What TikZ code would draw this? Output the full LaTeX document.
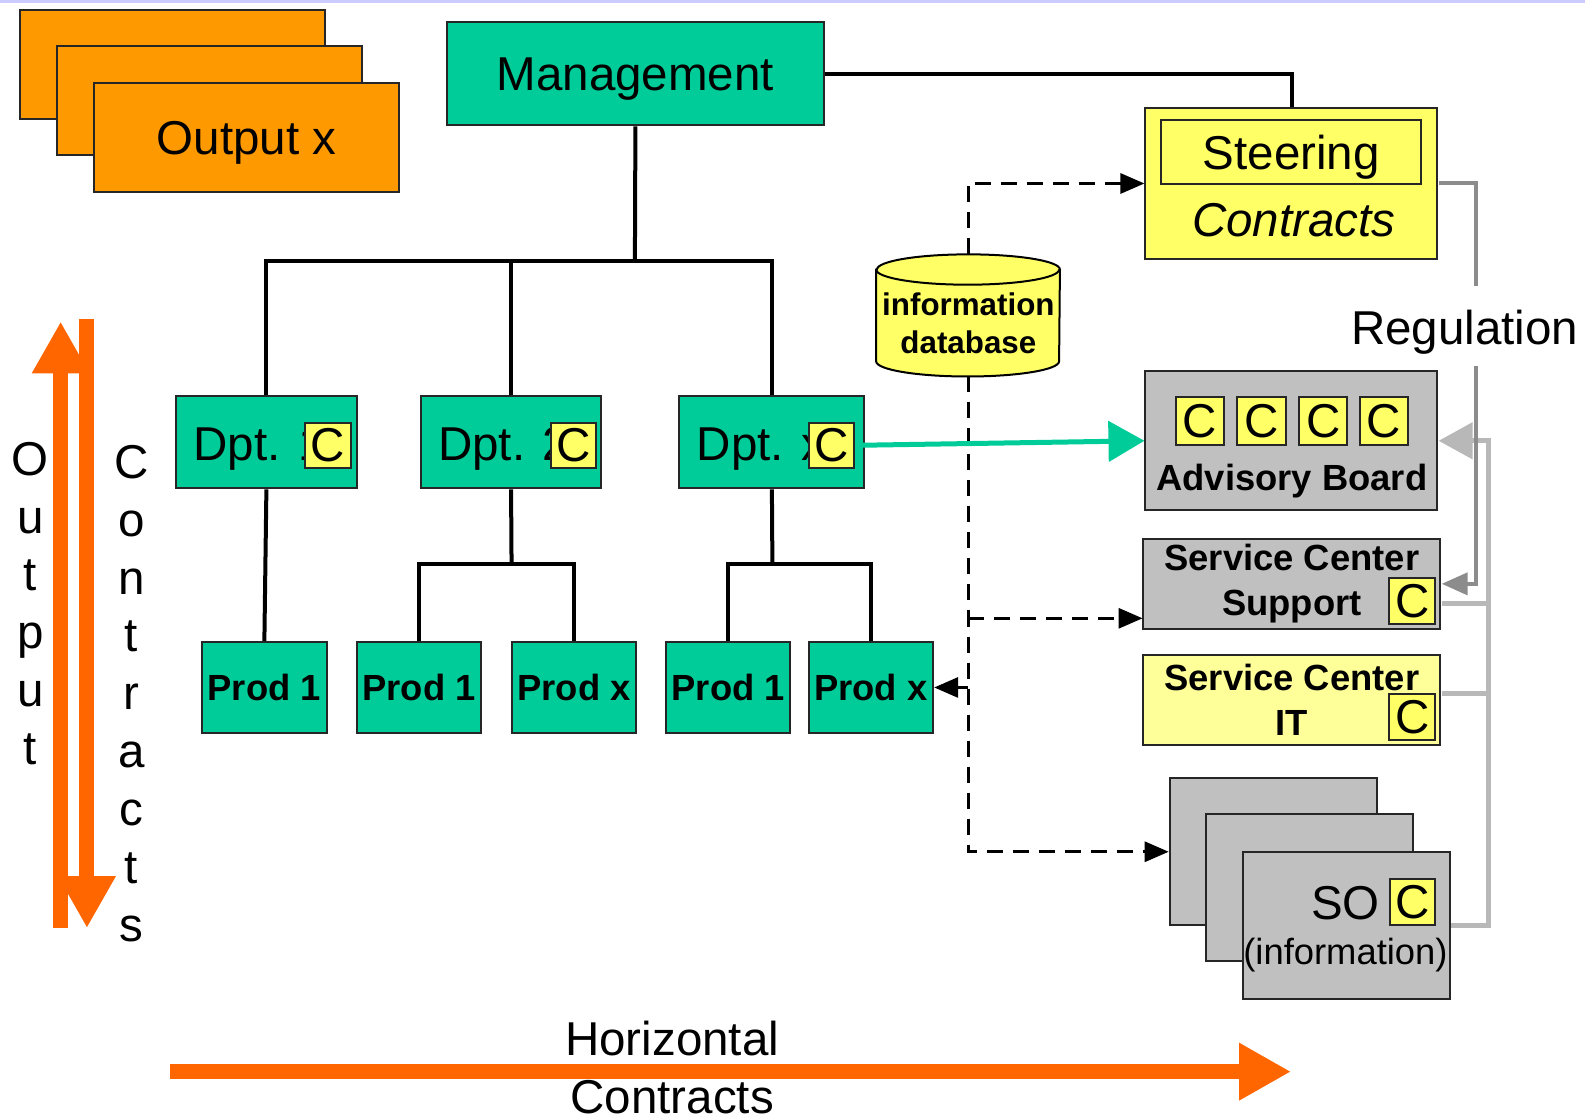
\documentclass[tikz,border=0pt]{standalone}
\usepackage{fontspec}
\setmainfont{Liberation Sans}
\usetikzlibrary{arrows.meta,positioning,backgrounds}
\definecolor{grn}{HTML}{00CC99}
\definecolor{orng}{HTML}{FF9900}
\definecolor{ylw}{HTML}{FFFF66}
\definecolor{lylw}{HTML}{FFFF99}
\definecolor{gry}{HTML}{C0C0C0}
\definecolor{arr}{HTML}{FF6600}
\definecolor{dgry}{HTML}{8C8C8C}
\definecolor{lgry}{HTML}{B8B8B8}
\newcommand{\bigfont}{\fontsize{23.5}{28.5}\selectfont}
\newcommand{\boldfont}{\fontsize{18}{22.5}\selectfont\bfseries}
\newcommand{\stackfont}{\fontsize{23.5}{28.6}\selectfont}

\tikzstyle{unit}=[rectangle,draw=black!85,line width=1pt,inner sep=0pt]
\tikzstyle{txt}=[inner sep=0pt,text depth=0pt]
\tikzstyle{dept}=[unit,fill=grn,minimum width=89.5pt,minimum height=45.5pt]
\tikzstyle{prod}=[unit,fill=grn,minimum width=61.5pt,minimum height=45pt,font=\boldfont]
\tikzstyle{cbox}=[unit,fill=ylw,minimum size=22.5pt,font=\bigfont]
\tikzstyle{sheet}=[unit,fill=orng,minimum width=151pt,minimum height=54pt]
\tikzstyle{svc}=[unit,fill=gry,minimum width=147pt,minimum height=44.5pt,align=center,font=\boldfont]
\tikzstyle{office}=[unit,fill=gry,minimum width=102.5pt,minimum height=72.5pt]
\tikzstyle{deptname}=[anchor=base west,inner sep=0pt,font=\bigfont]
\tikzstyle{link}=[line width=2pt]
\tikzstyle{info}=[line width=1.5pt,dash pattern=on 8pt off 5pt]
\tikzstyle{big}=[arr,line width=7.5pt,-{Triangle[length=26pt,width=27pt]}]

\begin{document}
\begin{tikzpicture}[x=0.5pt,y=-0.5pt,scale=1.01084,every node/.append style={transform shape},
    >={Triangle[length=12pt,width=10pt]}]
  \draw[blue!20,line width=1.5pt] (0,1) -- (1568,1);

  % output sheets
  \node[sheet] (o1) at (171,64) {};
  \node[sheet] (o2) at (207.5,99.5) {};
  \node[sheet,text depth=0pt,font=\bigfont] (o3) at (244,136) {Output x};

  % hierarchy
  \node[unit,fill=grn,minimum width=186.5pt,minimum height=51pt,text depth=0pt,font=\bigfont] (mg) at (628.5,73) {Management};

  \node[dept] (d1) at (263.5,437.5) {};
  \node[dept] (d2) at (505.5,437.5) {};
  \node[dept,minimum width=91.5pt] (d3) at (763.5,437.5) {};
  \node[deptname] (d1l) at ([xshift=9pt,yshift=-9pt]d1.west) {Dpt. 1};
  \node[deptname] (d2l) at ([xshift=9pt,yshift=-9pt]d2.west) {Dpt. 2};
  \node[deptname] (d3l) at ([xshift=9pt,yshift=-9pt]d3.west) {Dpt. x};
  \node[cbox] (c1) at (324.5,440.5) {C};
  \node[cbox] (c2) at (567.5,440.5) {C};
  \node[cbox] (c3) at (822.5,440.5) {C};

  \node[prod] (p1) at (261.5,680) {Prod 1};
  \node[prod] (p2) at (414.5,680) {Prod 1};
  \node[prod] (p3) at (568,680) {Prod x};
  \node[prod] (p4) at (720.5,680) {Prod 1};
  \node[prod] (p5) at (861.5,680) {Prod x};

  \coordinate (top) at (628,258);
  \coordinate (b2) at (506,558);
  \coordinate (b3) at (764,558);
  \draw[link] (mg.south) -- (top);
  \draw[link] (d1.north) |- (top) -| (d3.north);
  \draw[link] (d2.north) -- (d2.north |- top);
  \draw[link] (d1.south) -- (p1.north);
  \draw[link] (d2.south) -- (b2);
  \draw[link] (p2.north) |- (b2) -| (p3.north);
  \draw[link] (d3.south) -- (b3);
  \draw[link] (p4.north) |- (b3) -| (p5.north);

  % steering side
  \node[unit,fill=ylw,minimum width=144.5pt,minimum height=74.5pt] (st) at (1277.5,181.5) {};
  \node[unit,fill=ylw,minimum width=128.5pt,minimum height=31.5pt,text depth=0pt,font=\bigfont] (sti) at (1277.5,150.5) {Steering};
  \node[txt,font=\bigfont\itshape] (stc) at (1280,218) {Contracts};
  \draw[link] (mg.east) -| (st.north);

  \node[minimum width=90.5pt,minimum height=60pt,inner sep=0pt] (db) at (957.5,312) {};
  \begin{scope}[on background layer]
    \draw[line width=1pt,fill=ylw] ([yshift=-7.5pt]db.north west) -- ([yshift=7.5pt]db.south west)
      arc[start angle=180,end angle=360,x radius=45.25pt,y radius=7.5pt]
      -- ([yshift=-7.5pt]db.north east)
      arc[start angle=0,end angle=180,x radius=45.25pt,y radius=7.5pt] -- cycle;
    \draw[line width=1pt] ([yshift=-7.5pt]db.north west)
      arc[start angle=180,end angle=360,x radius=45.25pt,y radius=7.5pt];
  \end{scope}
  \node[inner sep=0pt,align=center,font=\fontsize{15.5}{19}\selectfont\bfseries] (dbl) at (958,320) {information\\database};

  \node[unit,fill=gry,minimum width=144.5pt,minimum height=69pt] (adv) at (1277.5,436) {};
  \foreach \x [count=\i] in {1187,1248,1309,1369}
    \node[cbox,minimum size=24pt] (a\i) at (\x,416.5) {C};
  \node[txt,font=\boldfont] (advl) at (1278,472) {Advisory Board};

  \node[svc] (scs) at (1278,577.5) {Service Center\\Support};
  \node[cbox] (c4) at (1397,594.5) {C};
  \node[svc,fill=lylw] (sci) at (1278,692.5) {Service Center\\IT};
  \node[cbox] (c5) at (1397,709.5) {C};

  \node[office] (so1) at (1259.5,842.5) {};
  \node[office] (so2) at (1295.5,878) {};
  \node[office] (so3) at (1332,915.5) {};
  \node[cbox] (c6) at (1397.5,892.5) {C};
  \node[txt,font=\bigfont] (sol) at (1331,893) {SO};
  \node[inner sep=0pt,font=\fontsize{18}{22}\selectfont] (soi) at (1331,945) {(information)};

  % information flow
  \coordinate (scsin) at ([yshift=-17pt]scs.west);
  \draw[info,->] (db.north) |- (st.west);
  \draw[info,->] (db.south) |- (so1.west);
  \draw[info,->] (db.south |- scsin) -- (scsin);
  \draw[line width=1.5pt,->] (db.south |- p5.east) -- (p5.east);
  \draw[grn,line width=2.5pt,-{Triangle[length=18pt,width=20pt]}] (c3.east) -- (adv.west);

  % regulation
  \coordinate (lc) at (1472,436);
  \coordinate (sbr) at ([yshift=-9.75pt]scs.east);
  \coordinate (ibr) at ([yshift=3.25pt]sci.east);
  \draw[lgry,line width=2.5pt,-{Triangle[length=17pt,width=18pt]}] (so3.east) -| (lc) -- (adv.east);
  \draw[lgry,line width=2.5pt] (sbr) -- (sbr -| lc);
  \draw[lgry,line width=2.5pt] (ibr) -- (ibr -| lc);
  \node[txt,font=\bigfont] (regl) at (1449,324) {Regulation};
  \coordinate (r1) at (1460,283);
  \coordinate (r2) at (1460,362);
  \draw[dgry,line width=2pt] (st.east) -| (r1);
  \draw[dgry,line width=2pt,-{Triangle[length=13pt,width=11pt]}] (r2) |- (scs.east);

  % contract arrows
  \coordinate (u1) at (60,918);
  \coordinate (u2) at (60,318);
  \coordinate (v1) at (86,316);
  \coordinate (v2) at (86,918);
  \coordinate (h1) at (168,1060);
  \coordinate (h2) at (1277,1060);
  \draw[big] (u1) -- (u2);
  \draw[big] (v1) -- (v2);
  \draw[big] (h1) -- (h2);
  \node[inner sep=0pt,align=center,font=\stackfont] (outl) at (30,597) {O\\u\\t\\p\\u\\t};
  \node[inner sep=0pt,align=center,font=\stackfont] (conl) at (130,686) {C\\o\\n\\t\\r\\a\\c\\t\\s};
  \node[inner sep=0pt,align=center,font=\fontsize{23.5}{29}\selectfont] (horl) at (665,1056) {Horizontal\\Contracts};

  \pgfresetboundingbox
  \useasboundingbox (0,0) rectangle (1568,1103);
\end{tikzpicture}
\end{document}
